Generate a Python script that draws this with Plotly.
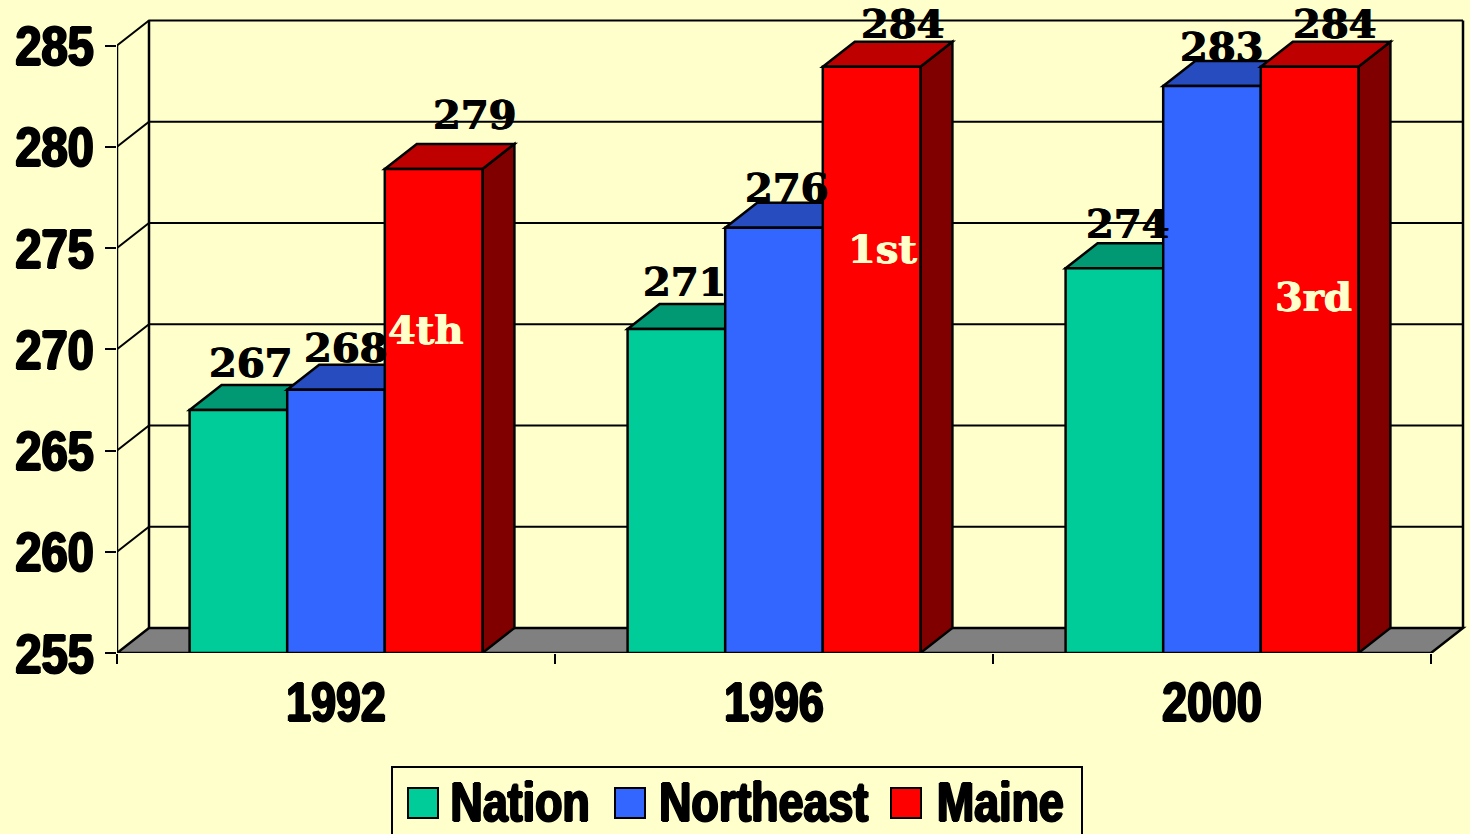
# 3D look column chart, Maine vs Northeast vs Nation
import plotly.graph_objects as go

years = ["1992", "1996", "2000"]
nation = [267, 271, 274]
northeast = [268, 276, 283]
maine = [278.9, 283.95, 283.95]

nation_labels = ["267", "271", "274"]
northeast_labels = ["268", "276", "283"]
maine_labels = ["279", "284", "284"]
maine_ranks = ["4th", "1st", "3rd"]
rank_heights = [271, 275, 272.6]

series_names = ["Nation", "Northeast", "Maine"]
y_ticks = [255, 260, 265, 270, 275, 280, 285]

BG = "#FFFFCC"
front_colors = ["#00CC99", "#3366FF", "#FF0000"]
top_colors = ["#009973", "#264CBF", "#BF0000"]
side_colors = ["#006B50", "#1A3380", "#800000"]

TICK_FONT = "Liberation Sans, Arial, sans-serif"
LABEL_FONT = "DejaVu Serif, serif"
HEAVY = "1.4px 0 0 black, -1.4px 0 0 black, 0 1px 0 black, 0 -1px 0 black"
SOFT = "0.6px 0 0 black, -0.6px 0 0 black"
SOFT_LIGHT = "0.6px 0 0 #FFFFCC, -0.6px 0 0 #FFFFCC"

# pixel layout of the plot area, a bit larger than the back wall so its edges aren't clipped
PX_LEFT, PX_RIGHT, PX_TOP, PX_BOTTOM = 117, 1468, 10, 653
PX_PER_CAT = 438
PX_PER_UNIT = 20.25
Y_BASE = 255
DEPTH_X = 32 / PX_PER_CAT
DEPTH_Y = 25 / PX_PER_UNIT
BAR_W = 97.6 / PX_PER_CAT
X_MIN = -0.5
X_MAX = X_MIN + (PX_RIGHT - PX_LEFT) / PX_PER_CAT
X_FRONT_END = 2.5
X_BACK_END = X_FRONT_END + DEPTH_X
Y_MAX = Y_BASE + (PX_BOTTOM - PX_TOP) / PX_PER_UNIT

# nudges of the value labels, same order as the series
label_shifts = [
    [(13, 48), (9, 48), (14, 45)],
    [(10, 42), (13, 40), (10, 40)],
    [(41, 55), (31, 43), (25, 43)],
]
rank_shifts = [(-8, 0), (11, 0), (4, 0)]


def px_x(x):
    return (x - PX_LEFT) / (PX_RIGHT - PX_LEFT)


def px_y(y):
    return (PX_BOTTOM - y) / (PX_BOTTOM - PX_TOP)


def poly(points):
    return "M " + " L ".join(f"{x},{y}" for x, y in points) + " Z"


def data_shape(path, fill="rgba(0,0,0,0)", width=2):
    return dict(type="path", path=path, xref="x", yref="y", layer="below",
                fillcolor=fill, line=dict(color="black", width=width))


all_series = [nation, northeast, maine]
all_labels = [nation_labels, northeast_labels, maine_labels]
x_pos = list(range(len(years)))

fig = go.Figure()
for name, values, color in zip(series_names, all_series, front_colors):
    fig.add_trace(go.Bar(
        x=x_pos,
        y=[v - Y_BASE for v in values],
        base=Y_BASE,
        name=name,
        marker=dict(color=color, line=dict(color="black", width=2.5)),
        showlegend=False,
        hoverinfo="skip",
    ))

shapes = []

# walls and grid
back_y = Y_BASE + DEPTH_Y
shapes.append(data_shape(poly([(X_MIN, Y_BASE), (X_MIN + DEPTH_X, back_y), (X_BACK_END, back_y),
                               (X_FRONT_END, Y_BASE)]), fill="#808080", width=2.5))
for tick in y_ticks[1:]:
    shapes.append(dict(type="path", xref="x", yref="y", layer="below",
                       path=f"M {X_MIN},{tick} L {X_MIN + DEPTH_X},{tick + DEPTH_Y} L {X_BACK_END},{tick + DEPTH_Y}",
                       line=dict(color="black", width=2)))
top_back = y_ticks[-1] + DEPTH_Y
shapes.append(dict(type="path", xref="x", yref="y", layer="below",
                   path=f"M {X_MIN + DEPTH_X},{back_y} L {X_MIN + DEPTH_X},{top_back} "
                        f"M {X_BACK_END},{back_y} L {X_BACK_END},{top_back} "
                        f"M {X_MIN},{Y_BASE} L {X_MIN},{y_ticks[-1]}",
                   line=dict(color="black", width=2.5)))

# top and side faces of the columns, worked out from the values
for j, values in enumerate(all_series):
    for i, v in enumerate(values):
        left = i + (j - 1.5) * BAR_W
        right = left + BAR_W
        shapes.append(data_shape(poly([(right, Y_BASE), (right + DEPTH_X, Y_BASE + DEPTH_Y),
                                       (right + DEPTH_X, v + DEPTH_Y), (right, v)]),
                                 fill=side_colors[j], width=2.5))
        shapes.append(data_shape(poly([(left, v), (left + DEPTH_X, v + DEPTH_Y),
                                       (right + DEPTH_X, v + DEPTH_Y), (right, v)]),
                                 fill=top_colors[j], width=2.5))

# legend, drawn by hand since the built in swatches can't be this large
shapes.append(dict(type="rect", xref="paper", yref="paper", layer="above",
                   x0=px_x(392), x1=px_x(1082), y0=px_y(767), y1=px_y(840),
                   line=dict(color="black", width=2), fillcolor=BG))
annotations = []
for color, name, sw_x, text_x in zip(front_colors, series_names, [408, 615, 891], [520, 763, 1000]):
    shapes.append(dict(type="rect", xref="paper", yref="paper", layer="above",
                       x0=px_x(sw_x), x1=px_x(sw_x + 30), y0=px_y(788), y1=px_y(818),
                       line=dict(color="black", width=2), fillcolor=color))
    annotations.append(dict(xref="paper", yref="paper", x=px_x(text_x), y=px_y(802),
                            xanchor="center", yanchor="middle", text=name, showarrow=False,
                            font=dict(family=TICK_FONT, size=56, color="black",
                                      weight="bold", shadow=HEAVY)))

# value labels and Maine's rank
for j, labels in enumerate(all_labels):
    for i, label in enumerate(labels):
        dx, dy = label_shifts[j][i]
        annotations.append(dict(x=i + (j - 1) * BAR_W, y=all_series[j][i], text=label,
                                showarrow=False, xshift=dx, yshift=dy,
                                font=dict(family=LABEL_FONT, size=40, color="black",
                                          weight="bold", shadow=SOFT)))
for i, rank in enumerate(maine_ranks):
    annotations.append(dict(x=i + BAR_W, y=rank_heights[i], text=rank, showarrow=False,
                            xshift=rank_shifts[i][0],
                            font=dict(family=LABEL_FONT, size=40, color=BG,
                                      weight="bold", shadow=SOFT_LIGHT)))

fig.update_layout(
    width=1470,
    height=834,
    margin=dict(l=PX_LEFT, r=1470 - PX_RIGHT, t=PX_TOP, b=834 - PX_BOTTOM),
    paper_bgcolor=BG,
    plot_bgcolor="rgba(0,0,0,0)",
    barmode="group",
    bargap=1 - 3 * BAR_W,
    bargroupgap=0,
    shapes=shapes,
    annotations=annotations,
    showlegend=False,
    xaxis=dict(
        automargin=False,
        range=[X_MIN, X_MAX],
        tickvals=x_pos,
        ticktext=years,
        ticks="outside",
        ticklen=0,
        showgrid=False,
        zeroline=False,
        showline=False,
        ticklabelstandoff=0,
        tickfont=dict(family=TICK_FONT, size=56, color="black", weight="bold", shadow=HEAVY),
        minor=dict(tickvals=[-0.5, 0.5, 1.5, 2.5], ticks="outside", ticklen=10,
                   tickwidth=2, tickcolor="black", showgrid=False),
    ),
    yaxis=dict(
        automargin=False,
        range=[Y_BASE, Y_MAX],
        tickvals=y_ticks,
        ticks="outside",
        ticklen=11,
        tickwidth=2,
        tickcolor="black",
        showgrid=False,
        zeroline=False,
        showline=False,
        ticklabelstandoff=0,
        tickfont=dict(family=TICK_FONT, size=56, color="black", weight="bold", shadow=HEAVY),
    ),
)

# no condensed heavy font is installed, so squeeze the sans text horizontally
squeeze = """
document.body.style.margin = '0';
var squeezed = document.querySelectorAll('.xtick text, .ytick text, .annotation-text');
squeezed.forEach(function (t) {
  if (t.style.fontFamily.indexOf('Liberation') < 0) { return; }
  var ratio = t.closest('.ytick') ? 0.84 : 0.8;
  t.setAttribute('textLength', t.getComputedTextLength() * ratio);
  t.setAttribute('lengthAdjust', 'spacingAndGlyphs');
});
"""
fig.write_html("out.html", config={"displayModeBar": False}, post_script=squeeze)
